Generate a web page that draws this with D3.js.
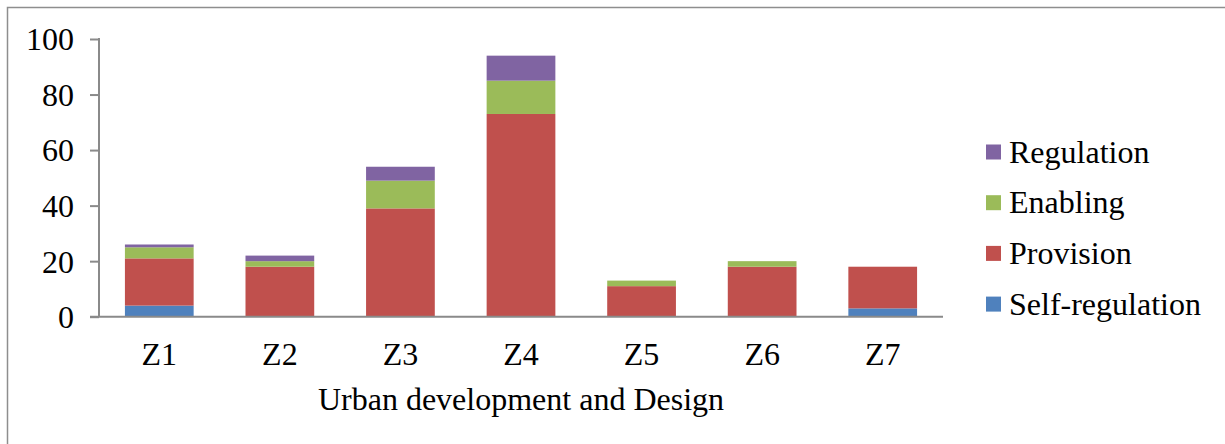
<!DOCTYPE html>
<html>
<head>
<meta charset="utf-8">
<script src="https://cdn.jsdelivr.net/npm/d3@7/dist/d3.min.js"></script>
<style>
  html, body { margin: 0; padding: 0; background: #fff; }
  svg { display: block; }
  text { font-family: "Liberation Serif", "Times New Roman", serif; fill: #000; }
</style>
</head>
<body>
<svg id="chart" width="1225" height="444"></svg>
<script>
// Zones along the x axis
const zones = ["Z1", "Z2", "Z3", "Z4", "Z5", "Z6", "Z7"];

// Series, stacked bottom to top
const seriesNames = ["Self-regulation", "Provision", "Enabling", "Regulation"];
const selfRegulation = [4, 0, 0, 0, 0, 0, 3];
const provision      = [17, 18, 39, 73, 11, 18, 15];
const enabling       = [4, 2, 10, 12, 2, 2, 0];
const regulation     = [1, 2, 5, 9, 0, 0, 0];

const yTicks = [0, 20, 40, 60, 80, 100];
const xTitle = "Urban development and Design";

const colors = {
  "Self-regulation": "#4F81BD",
  "Provision": "#C0504D",
  "Enabling": "#9BBB59",
  "Regulation": "#8064A2"
};

const rows = zones.map((z, i) => ({
  zone: z,
  "Self-regulation": selfRegulation[i],
  "Provision": provision[i],
  "Enabling": enabling[i],
  "Regulation": regulation[i]
}));

const svg = d3.select("#chart");
const fontFamily = "'Liberation Serif', 'Times New Roman', serif";
const fontSize = 32;

// Outer frame
svg.append("rect")
  .attr("x", 7.5).attr("y", 7.5)
  .attr("width", 1240).attr("height", 460)
  .attr("fill", "none")
  .attr("stroke", "#8e8e8e")
  .attr("stroke-width", 1.5);

const plot = { left: 99, right: 943, top: 39, bottom: 316.7 };

const x = d3.scaleBand()
  .domain(zones)
  .range([plot.left, plot.right])
  .paddingInner(0.43)
  .paddingOuter(0.215);

const y = d3.scaleLinear()
  .domain([0, 100])
  .range([plot.bottom, plot.top]);

const layers = d3.stack().keys(seriesNames)(rows);

// Bars
svg.append("g")
  .selectAll("g")
  .data(layers)
  .join("g")
    .attr("fill", d => colors[d.key])
  .selectAll("rect")
  .data(d => d.filter(p => p[1] - p[0] > 0))
  .join("rect")
    .attr("x", d => x(d.data.zone))
    .attr("width", x.bandwidth())
    .attr("y", d => y(d[1]))
    .attr("height", d => y(d[0]) - y(d[1]));

// Y axis
const yAxis = svg.append("g")
  .attr("transform", `translate(${plot.left},0)`)
  .call(d3.axisLeft(y).tickValues(yTicks).tickSize(9).tickPadding(16))
  .attr("font-family", fontFamily)
  .attr("font-size", fontSize);
yAxis.select(".domain").remove();
yAxis.selectAll(".tick line").attr("stroke", "#8a8a8a").attr("stroke-width", 2);
yAxis.selectAll(".tick text")
  .attr("fill", "#000")
  .attr("dy", "0.34em");
yAxis.append("line")
  .attr("x1", 0).attr("x2", 0)
  .attr("y1", y(100) - 1).attr("y2", plot.bottom)
  .attr("stroke", "#8a8a8a").attr("stroke-width", 2);

// X axis
const xAxis = svg.append("g")
  .attr("transform", `translate(0,${plot.bottom})`)
  .call(d3.axisBottom(x).tickSize(0).tickPadding(26))
  .attr("font-family", fontFamily)
  .attr("font-size", fontSize);
xAxis.select(".domain").remove();
xAxis.selectAll(".tick text").attr("fill", "#000");
xAxis.append("line")
  .attr("x1", plot.left - 9).attr("x2", plot.right)
  .attr("y1", 0).attr("y2", 0)
  .attr("stroke", "#8a8a8a").attr("stroke-width", 2);

// X axis title
svg.append("text")
  .attr("x", (plot.left + plot.right) / 2)
  .attr("y", 410)
  .attr("text-anchor", "middle")
  .attr("font-family", fontFamily)
  .attr("font-size", fontSize)
  .text(xTitle);

// Legend, top series first
const legendItems = seriesNames.slice().reverse();
const item = svg.append("g")
  .attr("font-family", fontFamily)
  .attr("font-size", fontSize)
  .selectAll("g")
  .data(legendItems)
  .join("g")
    .attr("transform", (d, i) => `translate(986,${152 + i * 50.7})`);
item.append("rect")
  .attr("x", 0).attr("y", -7.5)
  .attr("width", 15).attr("height", 15)
  .attr("fill", d => colors[d]);
item.append("text")
  .attr("x", 23).attr("y", 0)
  .attr("dy", "0.33em")
  .text(d => d);
</script>
</body>
</html>
